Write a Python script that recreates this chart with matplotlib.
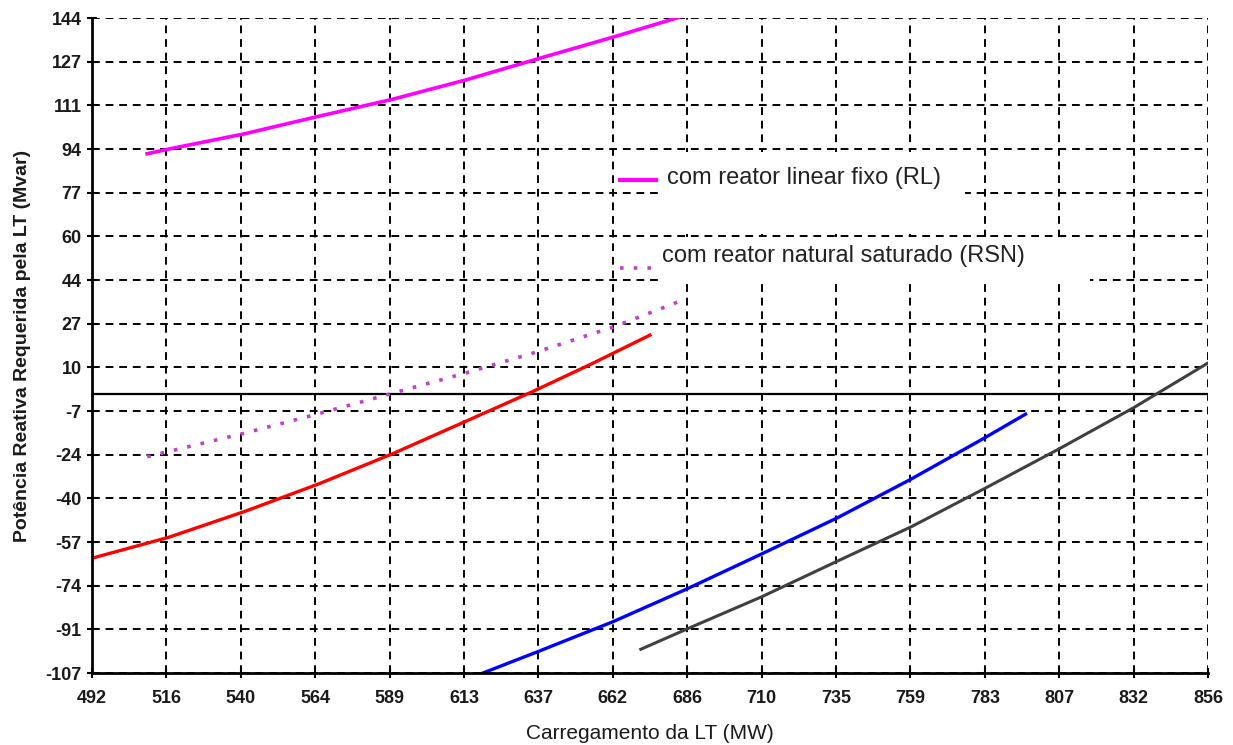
import matplotlib
matplotlib.use("Agg")
import matplotlib.pyplot as plt
from matplotlib.patches import Rectangle
import numpy as np

# ---- data ----
x_tick_labels = ["492", "516", "540", "564", "589", "613", "637", "662", "686",
                 "710", "735", "759", "783", "807", "832", "856"]
y_tick_labels = ["-107", "-91", "-74", "-57", "-40", "-24", "-7", "10", "27",
                 "44", "60", "77", "94", "111", "127", "144"]

rl_x = [510, 517.1, 541.6, 565.4, 589.8, 613.7, 638.1, 662.3, 683.5]
rl_y = [92.0, 93.8, 99.6, 106.2, 112.8, 120.2, 128.6, 136.8, 144.3]

red_x = [492, 517, 542, 566, 590, 614, 636, 655, 674]
red_y = [-63, -55, -45, -34.5, -23, -10.5, 1.0, 11.5, 22.5]

rsn_x = [510, 542, 566, 590, 614, 637.5, 662.5, 686]
rsn_y = [-24.1, -15, -7.6, 0.2, 8.0, 16.2, 25.8, 36.5]

blue_x = [619.5, 637, 662, 686, 710, 735, 759, 783, 796.5]
blue_y = [-107, -99, -87.3, -74.8, -61.6, -47.6, -32.8, -17, -7.8]

gray_x = [671, 686.5, 710.4, 734.8, 759.3, 783.3, 807.6, 831.5, 856]
gray_y = [-97.9, -89.9, -77.8, -64.3, -50.9, -36.2, -21.0, -5.5, 11.8]

legend_labels = ["com reator linear fixo (RL)", "com reator natural saturado (RSN)"]

# ---- figure ----
plt.rcParams['font.family'] = ['Liberation Sans', 'DejaVu Sans']
fig = plt.figure(figsize=(12.33, 7.45), dpi=100)
ax = fig.add_axes([0.0746, 0.0966, 0.9051, 0.8792])

xmin, xmax = 492, 856
ymin, ymax = -107, 144
ax.set_xlim(xmin, xmax)
ax.set_ylim(ymin, ymax)

xt = np.linspace(xmin, xmax, len(x_tick_labels))
yt = np.linspace(ymin, ymax, len(y_tick_labels))
ax.set_xticks(xt)
ax.set_xticklabels(x_tick_labels, fontsize=13, fontweight='bold')
ax.set_yticks(yt)
ax.set_yticklabels(y_tick_labels, fontsize=13, fontweight='bold')
ax.tick_params(direction='inout', length=7, width=1.5, colors='black')
ax.tick_params(axis='x', pad=9)
ax.tick_params(axis='y', pad=4)
for lab in ax.get_xticklabels() + ax.get_yticklabels():
    lab.set_color('#1a1a1a')

ax.grid(True, color='black', linestyle=(0, (4, 3)), linewidth=1.4, zorder=0)
ax.set_axisbelow(True)

for s in ['top', 'right']:
    ax.spines[s].set_visible(False)
for s in ['left', 'bottom']:
    ax.spines[s].set_linewidth(2)
    ax.spines[s].set_color('black')
    ax.spines[s].set_zorder(5)

# white boxes behind the legend texts
ax.add_patch(Rectangle((0.509, 0.670), 0.273, 0.125, transform=ax.transAxes,
                       facecolor='white', edgecolor='none', zorder=1))
ax.add_patch(Rectangle((0.509, 0.595), 0.385, 0.071, transform=ax.transAxes,
                       facecolor='white', edgecolor='none', zorder=1))

ax.axhline(0, color='black', linewidth=1.6, zorder=2)

ax.plot(rl_x, rl_y, color='#FF00FF', linewidth=2.6, zorder=3)
ax.plot(red_x, red_y, color='#FF0000', linewidth=2.4, zorder=3)
ax.plot(rsn_x, rsn_y, color='#C040C8', linewidth=2.6, linestyle=(0, (1, 2.8)), zorder=3)
ax.plot(blue_x, blue_y, color='#0000FF', linewidth=2.4, zorder=3)
ax.plot(gray_x, gray_y, color='#404040', linewidth=2.2, zorder=3)

# legend samples & texts
ax.plot([0.473, 0.505], [0.753, 0.753], transform=ax.transAxes,
        color='#FF00FF', linewidth=3, zorder=4)
ax.text(0.515, 0.756, legend_labels[0], transform=ax.transAxes,
        fontsize=17, va='center', ha='left', color='#222222', zorder=4)
ax.plot([0.473, 0.505], [0.618, 0.618], transform=ax.transAxes,
        color='#C040C8', linewidth=2.6, linestyle=(0, (1, 2.8)), zorder=4)
ax.text(0.511, 0.637, legend_labels[1], transform=ax.transAxes,
        fontsize=17, va='center', ha='left', color='#222222', zorder=4)

ax.set_xlabel("Carregamento da LT (MW)", fontsize=15, color='#1a1a1a', labelpad=12)
ax.set_ylabel("Potência Reativa Requerida pela LT (Mvar)", fontsize=14,
              fontweight='bold', color='#1a1a1a', labelpad=10)

fig.savefig("out.png", dpi=100)
